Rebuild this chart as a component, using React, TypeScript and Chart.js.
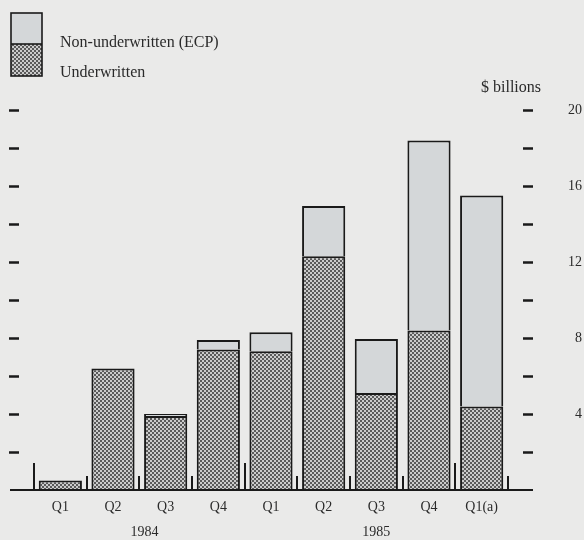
import React, { useEffect, useRef } from "react";
import { Chart, registerables } from "chart.js";

Chart.register(...registerables);

// ---- data ----
const categories = ["Q1", "Q2", "Q3", "Q4", "Q1", "Q2", "Q3", "Q4", "Q1(a)"];
const underwritten = [0.5, 6.4, 3.9, 7.4, 7.3, 12.3, 5.1, 8.4, 4.4];
const nonUnderwritten = [0, 0, 0.1, 0.5, 1.0, 2.65, 2.85, 10.0, 11.1];
const yearLabels = ["1984", "1985"];
const yearAnchors = [1.6, 6]; // category index under which each year sits
const yearBoundaries = [0, 4, 8]; // categories that start a year
const legendLabels = ["Non-underwritten (ECP)", "Underwritten"];
const unitLabel = "$ billions";
const yMin = 0;
const yMax = 20;
const labelStep = 4;
const dashStep = 2;

const SERIF = "'Liberation Serif', 'Times New Roman', serif";
const INK = "#1a1a1a";
const TEXT = "#2a2a2a";
const LIGHT = "#d4d7d9";
const PAPER = "#eaeae9";

function makePattern(): CanvasPattern | string {
  const c = document.createElement("canvas");
  c.width = 4;
  c.height = 4;
  const g = c.getContext("2d");
  if (!g) return "#909090";
  g.fillStyle = "#cbcbcb";
  g.fillRect(0, 0, 4, 4);
  g.fillStyle = "#5a5a5a";
  g.fillRect(0, 0, 2, 2);
  g.fillRect(2, 2, 2, 2);
  return g.createPattern(c, "repeat") || "#909090";
}

export default function App() {
  const ref = useRef<HTMLCanvasElement | null>(null);

  useEffect(() => {
    document.body.style.margin = "0";
    document.body.style.background = PAPER;
    const canvas = ref.current;
    if (!canvas) return;
    const pattern = makePattern();

    const decor = {
      id: "decor",
      beforeDraw(chart: any) {
        const { ctx, width, height } = chart;
        ctx.save();
        ctx.fillStyle = PAPER;
        ctx.fillRect(0, 0, width, height);
        ctx.restore();
      },
      afterDraw(chart: any) {
        const ctx = chart.ctx as CanvasRenderingContext2D;
        const xs = chart.scales.x;
        const ys = chart.scales.y;
        const base = ys.getPixelForValue(0);
        ctx.save();
        ctx.strokeStyle = INK;
        ctx.fillStyle = INK;

        // baseline
        ctx.lineWidth = 2;
        ctx.beginPath();
        ctx.moveTo(10, base);
        ctx.lineTo(533, base);
        ctx.stroke();

        // dashes both sides
        ctx.lineWidth = 2.5;
        for (let v = yMin + dashStep; v <= yMax; v += dashStep) {
          const y = Math.round(ys.getPixelForValue(v)) + 0.5;
          ctx.beginPath();
          ctx.moveTo(9, y);
          ctx.lineTo(19, y);
          ctx.moveTo(523, y);
          ctx.lineTo(533, y);
          ctx.stroke();
        }

        // separators between categories
        ctx.lineWidth = 2;
        const n = categories.length;
        const half = (xs.getPixelForValue(1) - xs.getPixelForValue(0)) / 2;
        for (let i = 0; i <= n; i++) {
          const x = Math.round(xs.getPixelForValue(i) - half);
          const tall = yearBoundaries.indexOf(i) >= 0;
          ctx.beginPath();
          ctx.moveTo(x, base);
          ctx.lineTo(x, base - (tall ? 27 : 14));
          ctx.stroke();
        }

        // legend
        ctx.fillStyle = LIGHT;
        ctx.fillRect(11, 13, 31, 31);
        ctx.fillStyle = pattern as any;
        ctx.fillRect(11, 44, 31, 32);
        ctx.lineWidth = 1.6;
        ctx.strokeStyle = INK;
        ctx.strokeRect(11, 13, 31, 63);
        ctx.beginPath();
        ctx.moveTo(11, 44);
        ctx.lineTo(42, 44);
        ctx.stroke();

        ctx.fillStyle = TEXT;
        ctx.font = `16px ${SERIF}`;
        ctx.textAlign = "left";
        ctx.textBaseline = "middle";
        ctx.fillText(legendLabels[0], 60, 43);
        ctx.fillText(legendLabels[1], 60, 73);

        // unit label
        ctx.font = `16px ${SERIF}`;
        ctx.textAlign = "right";
        ctx.fillText(unitLabel, 541, 88);

        // year labels
        ctx.textAlign = "center";
        ctx.font = `14px ${SERIF}`;
        yearLabels.forEach((t, i) => {
          ctx.fillText(t, xs.getPixelForValue(yearAnchors[i]), 532);
        });
        ctx.restore();
      },
    };

    const chart = new Chart(canvas, {
      type: "bar",
      data: {
        labels: categories,
        datasets: [
          {
            label: legendLabels[1],
            data: underwritten,
            backgroundColor: pattern as any,
            borderColor: INK,
            borderWidth: 2,
          },
          {
            label: legendLabels[0],
            data: nonUnderwritten,
            backgroundColor: LIGHT,
            borderColor: INK,
            borderWidth: 2,
          },
        ],
      },
      options: {
        responsive: false,
        animation: false,
        devicePixelRatio: 1,
        layout: { padding: { top: 110, left: 34, right: 2, bottom: 0 } },
        datasets: { bar: { barPercentage: 0.82, categoryPercentage: 1 } },
        plugins: {
          legend: { display: false },
          tooltip: { enabled: false },
          title: { display: false },
        },
        scales: {
          x: {
            stacked: true,
            offset: true,
            grid: { display: false, drawTicks: false },
            border: { display: false },
            ticks: {
              color: TEXT,
              font: { family: SERIF, size: 14 },
              padding: 9,
              maxRotation: 0,
              autoSkip: false,
            },
            afterFit: (s: any) => {
              s.height = 50;
            },
          },
          y: {
            stacked: true,
            position: "right",
            min: yMin,
            max: yMax,
            grid: { display: false, drawTicks: false },
            border: { display: false },
            ticks: {
              stepSize: labelStep,
              color: TEXT,
              font: { family: SERIF, size: 14 },
              padding: 0,
              crossAlign: "far",
              callback: (v: any) => (Number(v) === 0 ? "" : String(v)),
            },
            afterFit: (s: any) => {
              s.width = 74;
              s.paddingTop = 0;
              s.paddingBottom = 0;
            },
          },
        },
      },
      plugins: [decor],
    });

    return () => chart.destroy();
  }, []);

  return (
    <div style={{ width: 584, height: 540, background: PAPER }}>
      <canvas ref={ref} width={584} height={540} style={{ display: "block", width: 584, height: 540 }} />
    </div>
  );
}
